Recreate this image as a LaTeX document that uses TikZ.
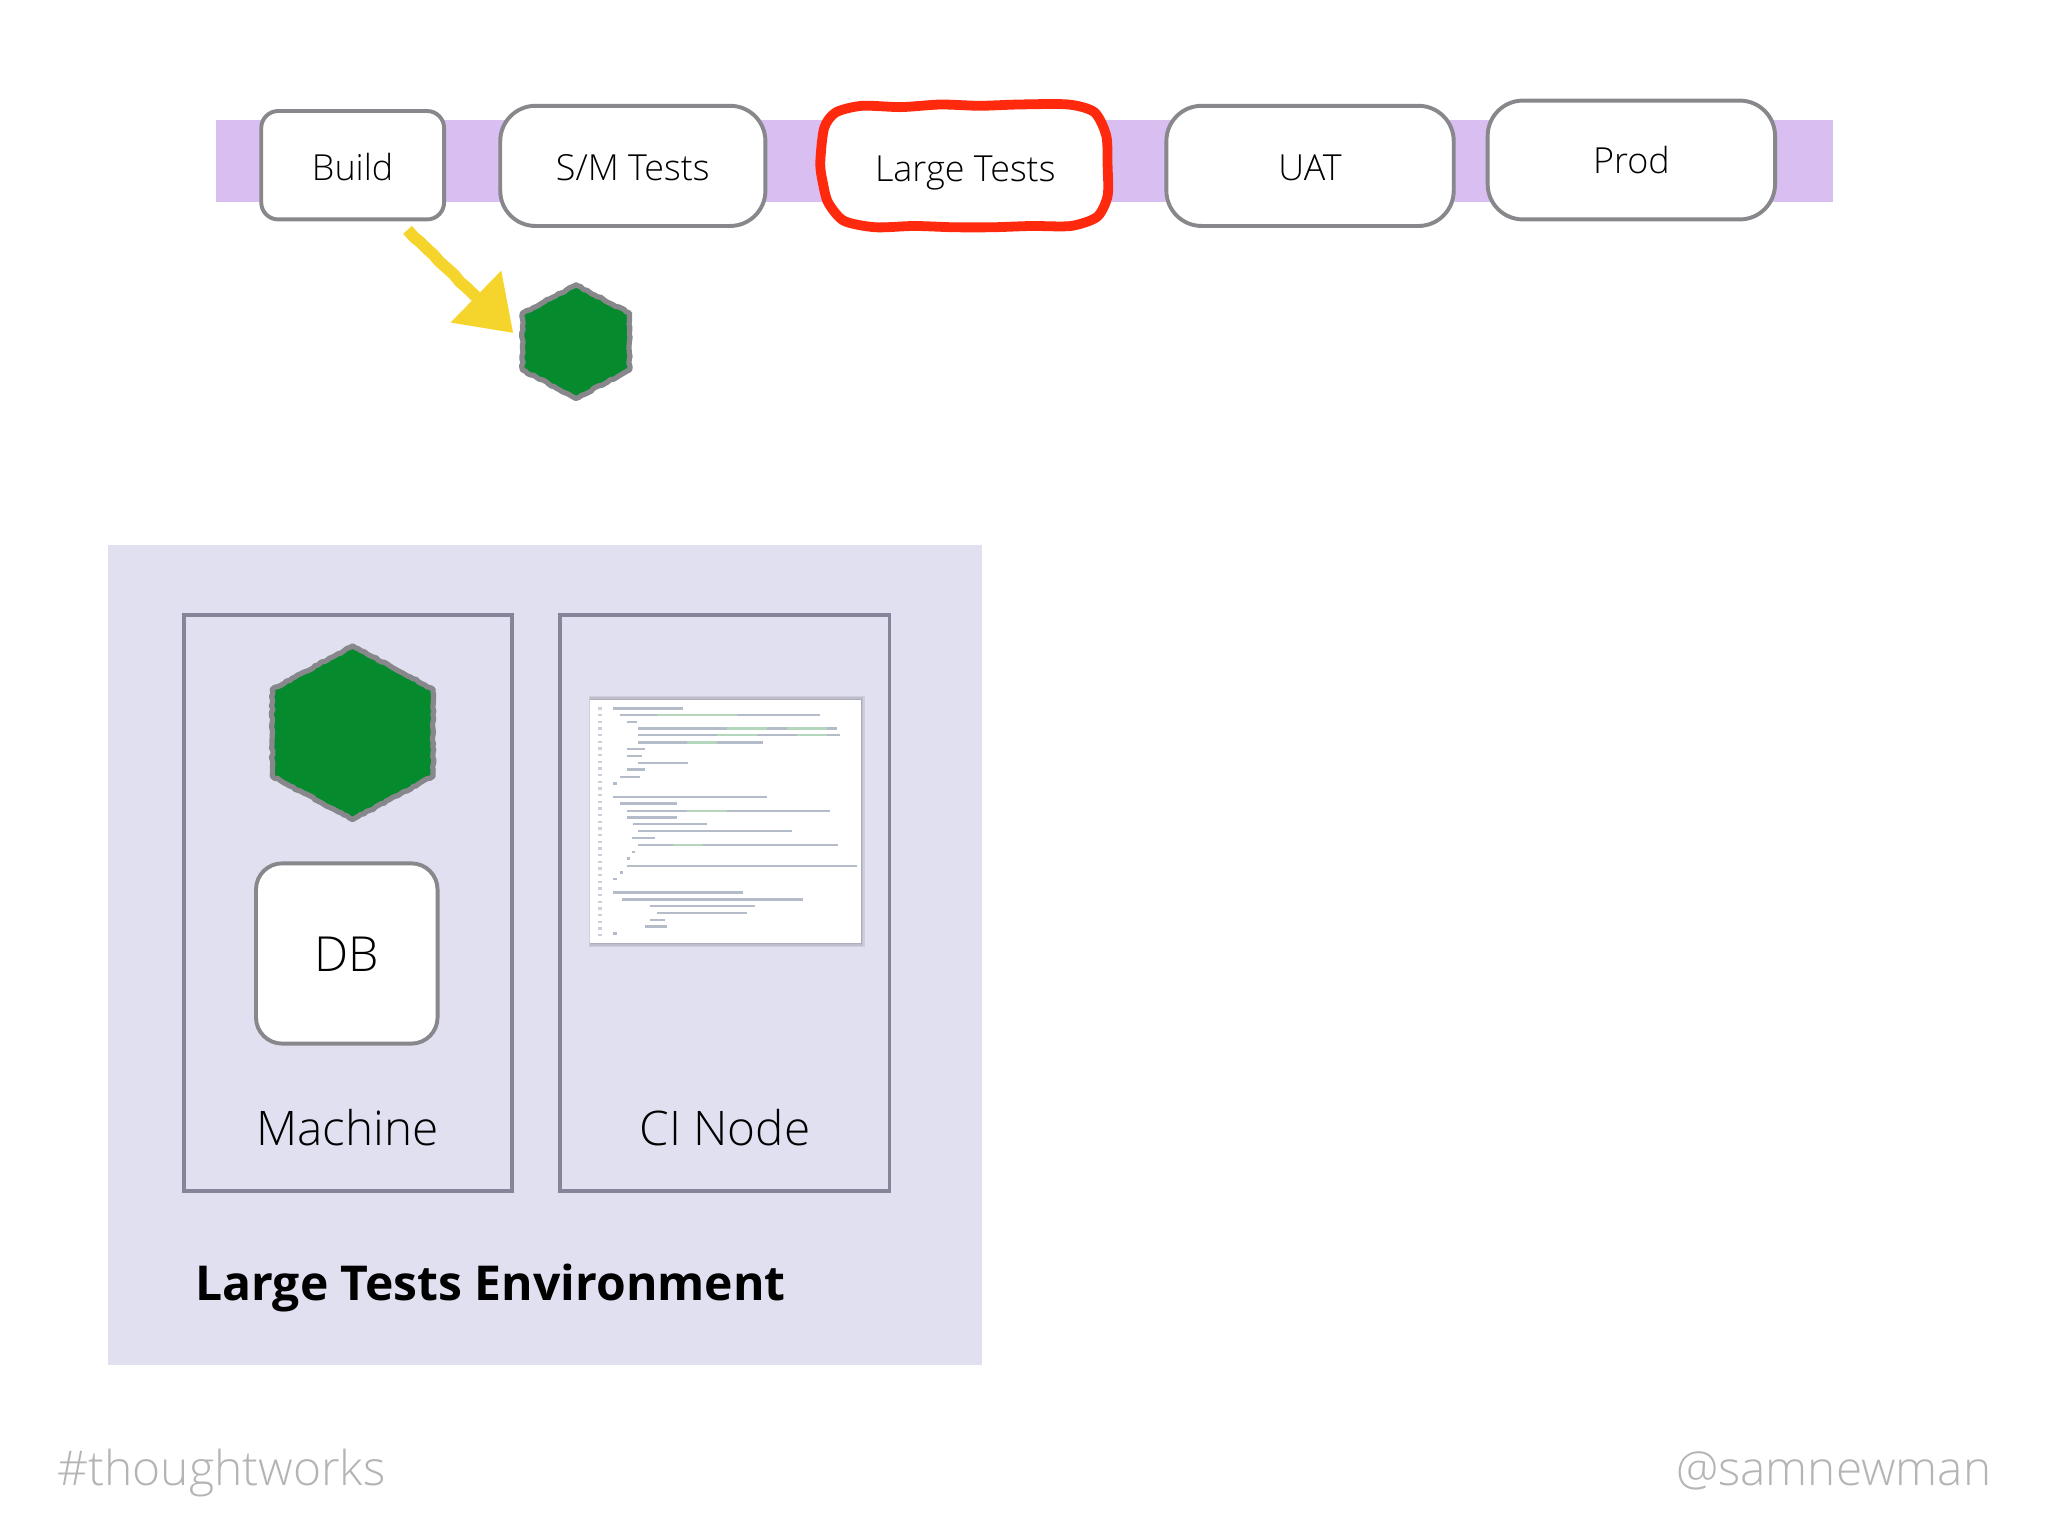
\documentclass[tikz,border=0pt]{standalone}
\usepackage{fontspec}
\setmainfont{Open Sans}[UprightFont=* Light, BoldFont=* Bold]
\usepackage{xcolor}
\usepackage{tikz}
\usetikzlibrary{arrows.meta,shapes.geometric,decorations.pathmorphing}
\definecolor{band}{HTML}{D9BEF2}
\definecolor{envfill}{HTML}{E0E0F0}
\definecolor{edge}{HTML}{87878C}
\definecolor{boxedge}{HTML}{85859A}
\definecolor{artifact}{HTML}{068A2E}
\definecolor{alert}{HTML}{FF2A0D}
\definecolor{marker}{HTML}{F5D42B}
\definecolor{muted}{HTML}{B4B4B4}
\definecolor{codeline}{HTML}{B4BBC9}
\definecolor{codegreen}{HTML}{B4D6BC}
\tikzset{
  stage/.style={draw=edge, fill=white, line width=3pt, inner sep=0pt, rounded corners=27pt,
    text height=22pt, text depth=0pt, font=\fontsize{27.5}{27.5}\selectfont},
  current/.style={draw=alert, line width=7.5pt, line join=round},
  hexcell/.style={regular polygon, regular polygon sides=6, shape border rotate=30, draw=edge, fill=artifact,
    line width=4pt, line join=round, inner sep=0pt, outer sep=0pt, decorate,
    decoration={random steps, segment length=2.5pt, amplitude=0.6pt}},
  holder/.style={draw=boxedge, line width=3pt, inner sep=0pt},
  lab/.style={anchor=base, font=\fontsize{36.5}{36.5}\selectfont},
  foot/.style={text=muted, font=\fontsize{36.7}{36.7}\selectfont},
  pointer/.style={draw=marker, line width=9pt, line join=round, -{Triangle[length=40pt,width=53pt,fill=marker]},
    decorate, decoration={random steps, segment length=7pt, amplitude=0.5pt, post length=42pt}},
  code/.style={draw=codeline, line width=1.7pt},
}
\begin{document}
\begin{tikzpicture}[x=1pt,y=-1pt]
  \pgfmathsetseed{7}
  \useasboundingbox (0,0) rectangle (1568,1176);

  % pipeline
  \fill[band] (165,92) rectangle (1403,155);
  \node[stage, text height=24pt, rounded corners=13pt, minimum width=140pt, minimum height=83pt] (build) at (270,126.5) {Build};
  \node[stage, minimum width=203pt, minimum height=92pt] (smtests) at (484.5,127) {S/M Tests};
  \node[stage, draw=none, text height=23pt, minimum width=218pt, minimum height=93pt] (largetests) at (739,127.5) {Large Tests};
  % hand drawn ring
  \draw[current] plot[smooth cycle, tension=0.45] coordinates {(660,81) (690,82) (720,80) (750,81) (780,80) (818,80)
    (838,86) (847,104) (848,127) (848,150) (840,166) (820,173) (790,173) (760,174) (730,174) (700,173) (670,174)
    (646,169) (634,155) (630,140) (628,125) (631,98) (640,86)};
  \node[stage, minimum width=220pt, minimum height=92pt] (uat) at (1003,127) {UAT};
  \node[stage, text height=21pt, minimum width=220pt, minimum height=91pt] (prod) at (1249,122.5) {Prod};

  % artifact coming out of the build
  \node[hexcell, xscale=1.09, minimum size=87pt] (hexsmall) at (441,261.5) {};
  \coordinate (arrowtail) at (312,176);
  \coordinate (arrowtip) at (393,255);
  \draw[pointer] (arrowtail) -- (arrowtip);

  % environment
  \fill[envfill] (83,417) rectangle (752,1045);
  \node[holder, minimum width=251pt, minimum height=441pt] (machine) at (266.5,691.5) {};
  \node[holder, minimum width=252pt, minimum height=441pt] (cinode) at (555,691.5) {};
  \node[hexcell, xscale=1.07, minimum size=133pt] (hexlarge) at (270,561) {};
  \node[stage, rounded corners=20pt, minimum width=139pt, minimum height=138pt, text height=28pt,
    font=\fontsize{37}{37}\selectfont] (db) at (265.5,730) {DB};
  \node[lab] (machinelab) at (266,877) {Machine};
  \node[lab] (cinodelab) at (555,877) {CI Node};
  \node[lab, anchor=base west, font=\fontsize{36.8}{36.8}\selectfont\bfseries] (envlab) at (146,996) {Large Tests Environment};

  % screenshot of test code
  \foreach \grow in {3,2,1}
    \fill[black, opacity=0.08] (452-0.3*\grow,536-\grow) rectangle (659+\grow,722+\grow);
  \fill[white] (452,536) rectangle (659,722);
  \begin{scope}[shift={(436.4,520.7)}, x=0.2552pt, y=-0.2552pt]
    \foreach \xa/\xb/\ly in {130/340/85, 150/750/105, 170/200/125, 205/800/145, 205/810/165, 205/580/187,
      170/225/207, 170/215/228, 205/355/248, 170/225/268, 150/210/290, 130/140/310, 130/590/350, 150/320/370,
      170/780/392, 170/320/412, 190/410/432, 205/665/453, 185/255/473, 205/805/494, 185/195/515, 170/180/535,
      170/860/557, 150/160/577, 130/140/597, 130/520/637, 155/700/658, 240/555/678, 260/530/699, 240/285/719,
      225/290/739, 130/140/760}
      \draw[code] (\xa,\ly) -- (\xb,\ly);
    \foreach \ly in {85,105,...,780}
      \draw[code, draw=codeline!70] (85,\ly) -- (97,\ly);
    \foreach \xa/\xb/\ly in {260/500/105, 470/590/145, 650/770/145, 440/560/165, 680/770/165, 350/440/187, 350/470/392, 310/400/494}
      \draw[code, draw=codegreen] (\xa,\ly) -- (\xb,\ly);
  \end{scope}

  % footer
  \node[foot, anchor=base west] (tag) at (40.5,1137) {\#thoughtworks};
  \node[foot, anchor=base east, font=\fontsize{36.5}{36.5}\selectfont] (handle) at (1528,1137) {@samnewman};
\end{tikzpicture}
\end{document}
